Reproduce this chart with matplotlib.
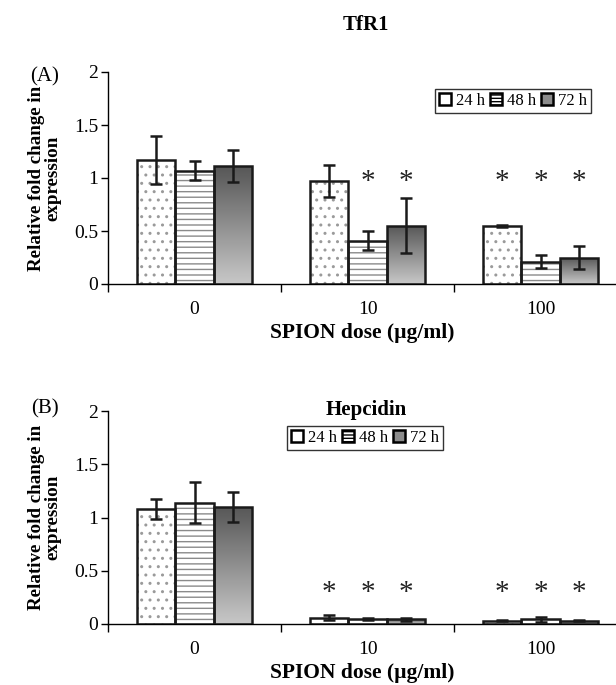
import numpy as np
import matplotlib
matplotlib.use("Agg")
import matplotlib.pyplot as plt
from matplotlib.patches import Patch
from matplotlib.colors import LinearSegmentedColormap

plt.rcParams['font.family'] = ['Liberation Serif', 'DejaVu Serif']

doses = ['0', '10', '100']
series = ['24 h', '48 h', '72 h']

# TfR1 (panel A)
tfr1_24 = [1.17, 0.97, 0.55]
tfr1_48 = [1.07, 0.41, 0.21]
tfr1_72 = [1.11, 0.55, 0.25]
tfr1_err_24 = [0.23, 0.15, 0.01]
tfr1_err_48 = [0.09, 0.09, 0.06]
tfr1_err_72 = [0.15, 0.26, 0.11]
# which bars carry an asterisk (dose index, series index)
tfr1_stars = [(1, 1), (1, 2), (2, 0), (2, 1), (2, 2)]
tfr1_star_y = 0.96

# Hepcidin (panel B)
hep_24 = [1.08, 0.06, 0.03]
hep_48 = [1.14, 0.045, 0.045]
hep_72 = [1.10, 0.045, 0.03]
hep_err_24 = [0.09, 0.025, 0.005]
hep_err_48 = [0.19, 0.01, 0.025]
hep_err_72 = [0.14, 0.015, 0.005]
hep_stars = [(1, 0), (1, 1), (1, 2), (2, 0), (2, 1), (2, 2)]
hep_star_y = 0.29

W = 0.223
x = np.arange(len(doses))
offsets = [-W, 0, W]

gradient = np.linspace(0, 1, 256).reshape(-1, 1)
grey_cmap = LinearSegmentedColormap.from_list('g', ['#565656', '#c8c8c8'])


def draw_panel(ax, vals, errs, stars, star_y, title, title_y, legend_xy):
    fills = [dict(hatch='..', facecolor='white', hc='#9a9a9a'),
             dict(hatch='---', facecolor='white', hc='#8a8a8a'),
             dict(hatch=None, facecolor='none', hc='none')]
    for i in range(3):
        pos = x + offsets[i]
        # hatched / filled layer
        b = ax.bar(pos, vals[i], W, color=fills[i]['facecolor'],
                   hatch=fills[i]['hatch'], edgecolor=fills[i]['hc'], linewidth=0, zorder=2)
        if i == 2:
            for r in b:
                im = ax.imshow(gradient, cmap=grey_cmap, aspect='auto',
                               extent=(r.get_x(), r.get_x() + r.get_width(), 0, r.get_height()),
                               origin='upper', zorder=2)
                im.set_clip_path(r)
        # outline
        ax.bar(pos, vals[i], W, color='none', edgecolor='#1a1a1a', linewidth=1.8, zorder=3)
        ax.errorbar(pos, vals[i], yerr=errs[i], fmt='none', ecolor='#1a1a1a',
                    elinewidth=1.8, capsize=4.5, capthick=1.8, zorder=4)
    for d, s in stars:
        ax.text(x[d] + offsets[s], star_y, '*', ha='center', va='center',
                fontsize=21, color='#222222')

    ax.set_xlim(-0.5, 2.436)
    ax.set_ylim(0, 2)
    ax.set_yticks([0, 0.5, 1, 1.5, 2])
    ax.set_yticklabels(['0', '0.5', '1', '1.5', '2'])
    ax.set_xticks([-0.5, 0.5, 1.5])
    ax.set_xticklabels([])
    ax.set_xticks(x, minor=True)
    ax.set_xticklabels(doses, minor=True)
    ax.tick_params(axis='x', which='minor', length=0, pad=12, labelsize=14)
    ax.tick_params(axis='x', which='major', length=6, width=1, direction='out')
    ax.tick_params(axis='y', length=5, width=1, direction='out', labelsize=14, pad=2)
    for sp in ['top', 'right']:
        ax.spines[sp].set_visible(False)
    for sp in ['left', 'bottom']:
        ax.spines[sp].set_linewidth(1)
    ax.set_xlabel('SPION dose (\u00b5g/ml)', fontsize=15.5, fontweight='bold', labelpad=4)
    ax.set_ylabel('Relative fold change in\nexpression', fontsize=13.7, fontweight='bold',
                  labelpad=9, linespacing=1.0)
    ax.text(0.508, title_y, title, transform=ax.transAxes, ha='center', va='center',
            fontsize=15, fontweight='bold')

    handles = [Patch(facecolor='white', edgecolor='black', linewidth=1.8),
               Patch(facecolor='white', edgecolor='black', linewidth=1.8, hatch='-----'),
               Patch(facecolor='#8c8c8c', edgecolor='black', linewidth=1.8)]
    fig = ax.figure
    leg = ax.legend(handles, series, loc='center',
                    bbox_to_anchor=(legend_xy[0] / 616, 1 - legend_xy[1] / 685),
                    bbox_transform=fig.transFigure, ncol=3, frameon=True, fancybox=False,
                    edgecolor='black', fontsize=12, handlelength=0.7, handleheight=0.7,
                    handletextpad=0.3, columnspacing=0.3, borderpad=0.25,
                    borderaxespad=0)
    leg.get_frame().set_linewidth(1)


fig = plt.figure(figsize=(6.16, 6.85), dpi=100)
axA = fig.add_axes([108 / 616, 1 - 284 / 685, 1 - 108 / 616, 212 / 685])
axB = fig.add_axes([108 / 616, 1 - 624 / 685, 1 - 108 / 616, 213 / 685])

draw_panel(axA, [tfr1_24, tfr1_48, tfr1_72], [tfr1_err_24, tfr1_err_48, tfr1_err_72],
           tfr1_stars, tfr1_star_y, 'TfR1', 1.22, (513, 101))
draw_panel(axB, [hep_24, hep_48, hep_72], [hep_err_24, hep_err_48, hep_err_72],
           hep_stars, hep_star_y, 'Hepcidin', 1.005, (365, 438))

fig.text(45 / 616, 1 - 77 / 685, '(A)', ha='center', va='center', fontsize=15)
fig.text(45 / 616, 1 - 409 / 685, '(B)', ha='center', va='center', fontsize=15)

fig.savefig('out.png', dpi=100)
